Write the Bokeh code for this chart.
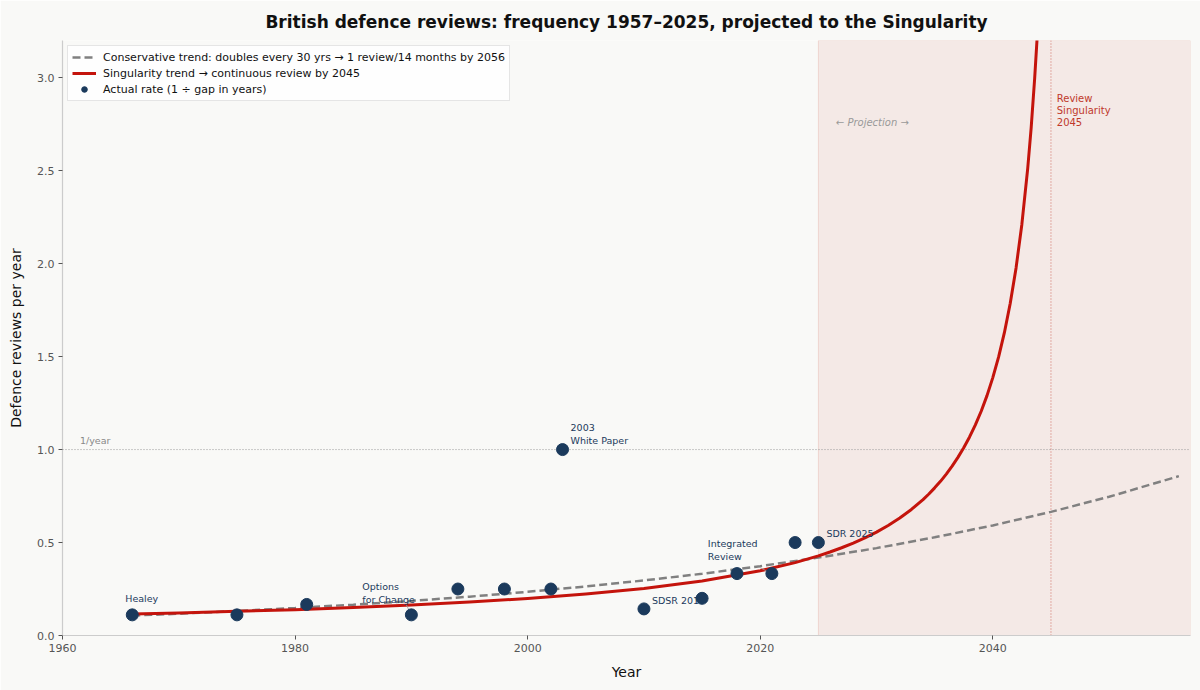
from bokeh.plotting import figure
from bokeh.models import (BoxAnnotation, Span, Label, Legend, LegendItem,
                          FixedTicker, Range1d)
from bokeh.core.properties import value
from bokeh.embed import file_html
from bokeh.resources import INLINE

# ---------------- data ----------------
review_years = [1966, 1975, 1981, 1990, 1994, 1998, 2002, 2003, 2010, 2015, 2018, 2021, 2023, 2025]
review_rates = [0.111, 0.111, 0.167, 0.111, 0.25, 0.25, 0.25, 1.0, 0.143, 0.2, 0.333, 0.333, 0.5, 0.5]

ann_years = [1966, 1990, 2003, 2010, 2021, 2025]
ann_texts = ["Healey", "Options\nfor Change", "2003\nWhite Paper", "SDSR 2010", "Integrated\nReview", "SDR 2025"]

cons_years = [1966, 1970, 1975, 1980, 1985, 1990, 1995, 2000, 2005, 2010, 2015, 2020,
              2025, 2030, 2035, 2040, 2045, 2050, 2056]
cons_rates = [0.107, 0.117, 0.132, 0.148, 0.166, 0.186, 0.209, 0.235, 0.264, 0.296, 0.332, 0.373,
              0.419, 0.470, 0.528, 0.592, 0.665, 0.746, 0.857]

sing_years = [1966, 1970, 1975, 1980, 1985, 1990, 1995, 2000, 2005, 2010, 2015, 2020, 2023,
              2025, 2026, 2027, 2028, 2029, 2030, 2031, 2032, 2033, 2034, 2034.5, 2035, 2035.5,
              2036, 2036.5, 2037, 2037.5, 2038, 2038.5, 2039, 2039.5, 2040,
              2040.5, 2041, 2041.5, 2042, 2042.5, 2043, 2043.3, 2043.6, 2043.8, 2044]
sing_rates = [0.115, 0.121, 0.130, 0.139, 0.151, 0.164, 0.180, 0.199, 0.223, 0.253, 0.293, 0.348, 0.392,
              0.428, 0.449, 0.472, 0.497, 0.525, 0.556, 0.592, 0.632, 0.678, 0.731, 0.761, 0.794, 0.829,
              0.868, 0.911, 0.958, 1.010, 1.068, 1.133, 1.206, 1.290, 1.387,
              1.498, 1.630, 1.787, 1.977, 2.212, 2.511, 2.732, 2.997, 3.203, 3.440]

projection_start = 2025
singularity_year = 2045
x_ticks = [1960, 1980, 2000, 2020, 2040]
y_ticks = [0.0, 0.5, 1.0, 1.5, 2.0, 2.5, 3.0]
title_text = "British defence reviews: frequency 1957\u20132025, projected to the Singularity"

# ---------------- styles ----------------
FONT = "DejaVu Sans"
BG = "#f9f9f7"
NAVY = "#1b3a5c"
RED = "#c4140c"
GREY = "#808080"

X0, X1 = 1960, 2057
Y0, Y1 = 0, 3.2
FW, FH = 1128, 595

p = figure(width=1200, height=690, output_backend="svg", toolbar_location=None,
           x_range=Range1d(X0, X1), y_range=Range1d(Y0, Y1),
           min_border_left=62, min_border_right=10, min_border_top=40, min_border_bottom=55,
           background_fill_color=BG, border_fill_color=BG)

p.title.text = title_text
p.title.align = "center"
p.title.text_font = FONT
p.title.text_font_size = "17px"
p.title.text_font_style = "bold"
p.title.text_color = "#111111"
p.title.text_line_height = 0.75
p.title.standoff = 18

p.xgrid.visible = False
p.ygrid.visible = False
p.outline_line_color = None

for ax in (p.xaxis[0], p.yaxis[0]):
    ax.axis_line_color = "#cccccc"
    ax.axis_line_width = 1.2
    ax.major_tick_line_color = "#555555"
    ax.major_tick_out = 4
    ax.major_tick_in = 0
    ax.minor_tick_line_color = None
    ax.major_label_standoff = 4
    ax.major_label_text_font = FONT
    ax.major_label_text_font_size = "11px"
    ax.major_label_text_color = "#555555"
    ax.axis_label_text_font = FONT
    ax.axis_label_text_font_size = "14px"
    ax.axis_label_text_font_style = "normal"
    ax.axis_label_text_color = "#111111"

p.xaxis.ticker = FixedTicker(ticks=x_ticks)
p.yaxis.ticker = FixedTicker(ticks=y_ticks)
p.yaxis.major_label_overrides = {t: f"{t:.1f}" for t in y_ticks}
p.xaxis.axis_label = "Year"
p.yaxis.axis_label = "Defence reviews per year"
p.xaxis.axis_label_standoff = 9
p.yaxis.axis_label_standoff = 10

# projection shading
p.add_layout(BoxAnnotation(left=projection_start, fill_color="#c0392b", fill_alpha=0.08,
                           line_color="#c0392b", line_alpha=0.15, line_width=1, level="underlay"))
# reference lines
p.add_layout(Span(location=1.0, dimension="width", line_color="#999999", line_width=1,
                  line_dash="1 2", level="underlay"))
p.add_layout(Span(location=singularity_year, dimension="height", line_color="#c0392b",
                  line_alpha=0.7, line_width=1, line_dash="1 2", level="underlay"))

p.add_layout(Label(x=X0 + 1.5, y=1.0, y_offset=4, text="1/year", text_font=FONT,
                   text_font_size="9.5px", text_color="#888888", text_baseline="bottom"))
p.add_layout(Label(x=projection_start + 1.5, y=2.76, text="\u2190 Projection \u2192", text_font=FONT,
                   text_font_size="10px", text_font_style="italic", text_color="#999999",
                   text_baseline="middle"))
p.add_layout(Label(x=singularity_year + 0.5, y=2.92, text="Review\nSingularity\n2045", text_font=FONT,
                   text_font_size="10px", text_color="#c0392b", text_baseline="top",
                   text_line_height=1.1))

# trends
r_cons = p.line(cons_years, cons_rates, line_color=GREY, line_width=2.5, line_dash="8 4")
r_sing = p.line(sing_years, sing_rates, line_color=RED, line_width=3, line_join="round")

# annotation text (drawn beneath markers)
rate_of = dict(zip(review_years, review_rates))
ann_rates = [rate_of[y] for y in ann_years]
ann_dx = [-7, -49, 8, 8, -64, 8]
ann_dy = [-11, -10, -4, -3, -12, -4]
p.text(x=ann_years, y=ann_rates, text=ann_texts, x_offset=ann_dx, y_offset=ann_dy,
       text_font=value(FONT), text_font_size="9.5px", text_color=NAVY,
       text_baseline="bottom", text_align="left", text_line_height=1.15)

# small connector lines from labels to points
pxx = FW / (X1 - X0)
pxy = FH / (Y1 - Y0)
conn_years = [1990, 2021]
conn_dx = [-5, -12]
conn_dy = [10, 6]
x0s = [y + dx / pxx for y, dx in zip(conn_years, conn_dx)]
y0s = [rate_of[y] + dy / pxy for y, dy in zip(conn_years, conn_dy)]
p.segment(x0=x0s, y0=y0s, x1=conn_years, y1=[rate_of[y] for y in conn_years],
          line_color="#999999", line_width=0.8)

r_pts = p.scatter(review_years, review_rates, size=12, fill_color=NAVY, line_color=NAVY, marker="circle")

legend = Legend(items=[
    LegendItem(label="Conservative trend: doubles every 30 yrs \u2192 1 review/14 months by 2056", renderers=[r_cons]),
    LegendItem(label="Singularity trend \u2192 continuous review by 2045", renderers=[r_sing]),
    LegendItem(label="Actual rate (1 \u00f7 gap in years)", renderers=[r_pts]),
], location="top_left")
legend.label_text_font = FONT
legend.label_text_font_size = "11px"
legend.label_text_color = "#111111"
legend.label_height = 14
legend.glyph_height = 14
legend.glyph_width = 24
legend.spacing = 2
legend.padding = 4
legend.margin = 5
legend.label_standoff = 7
legend.border_line_color = "#cccccc"
legend.border_line_width = 1
legend.background_fill_color = "white"
legend.background_fill_alpha = 0.85
p.add_layout(legend)

html = file_html(p, INLINE)
html = html.replace("<body>", '<body style="background:%s">' % BG, 1)
open("out.html", "w").write(html)
